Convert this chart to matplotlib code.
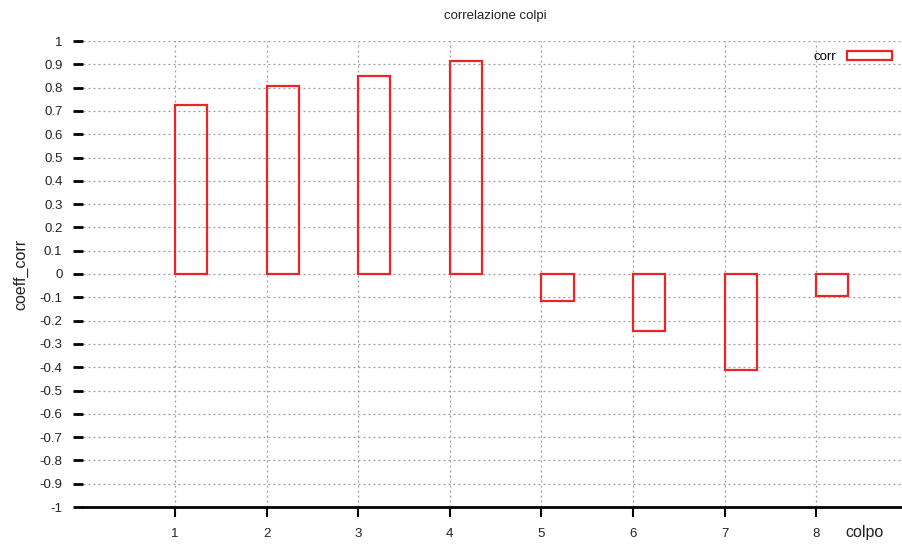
import numpy as np
import matplotlib.pyplot as plt
from matplotlib.patches import Rectangle

plt.rcParams['font.family'] = ['Liberation Sans', 'DejaVu Sans']

# -------------------------------
# Data
# -------------------------------
colpo = [1, 2, 3, 4, 5, 6, 7, 8]
corr = [0.725, 0.807, 0.850, 0.914, -0.116, -0.245, -0.412, -0.094]
y_ticks = np.round(np.arange(-1.0, 1.01, 0.1), 1)
y_labels = [f"{t:g}" if abs(t) > 1e-9 else "0" for t in y_ticks]

red = '#e8262a'

fig = plt.figure(figsize=(9.03, 5.45), dpi=100)
ax = fig.add_axes([83.3 / 903, 38 / 545, 824.7 / 903, 466 / 545])

ax.bar(colpo, corr, width=0.35, align='edge', fill=False,
       edgecolor=red, linewidth=1.6, label='corr', zorder=3)

ax.set_xlim(0, 9)
ax.set_ylim(-1, 1)
ax.set_xticks(colpo)
ax.set_yticks(y_ticks)
ax.set_yticklabels(y_labels)

for s in ['top', 'right', 'left']:
    ax.spines[s].set_visible(False)
ax.spines['bottom'].set_linewidth(2)
ax.spines['bottom'].set_color('black')

ax.tick_params(axis='y', direction='out', length=7, width=2, labelsize=9.5, pad=8, colors='black')
ax.tick_params(axis='x', direction='out', length=7, width=1.5, labelsize=9.5, pad=8)
for lbl in ax.get_yticklabels() + ax.get_xticklabels():
    lbl.set_color('#222222')

ax.grid(True, linestyle=(0, (1.5, 2.5)), color='#999999', linewidth=0.9, zorder=0)
ax.set_axisbelow(True)

ax.set_title("correlazione colpi", fontsize=9.5, pad=16, color='#222222')
ax.set_ylabel("coeff_corr", fontsize=11.5, labelpad=8, color='#222222')
fig.text(865 / 903, 1 - 533 / 545, "colpo", fontsize=11.5, ha='center', va='center', color='#222222')

handle = Rectangle((0, 0), 1, 1, fill=False, edgecolor=red, linewidth=1.6)
ax.legend([handle], ['corr'], loc='upper right', bbox_to_anchor=(897 / 903, 1 - 46 / 545),
          bbox_transform=fig.transFigure, frameon=False, markerfirst=False,
          handlelength=3.4, handleheight=0.6, fontsize=9.5, handletextpad=0.8,
          borderaxespad=0.0)

plt.savefig("out.png", dpi=100)
plt.close()
